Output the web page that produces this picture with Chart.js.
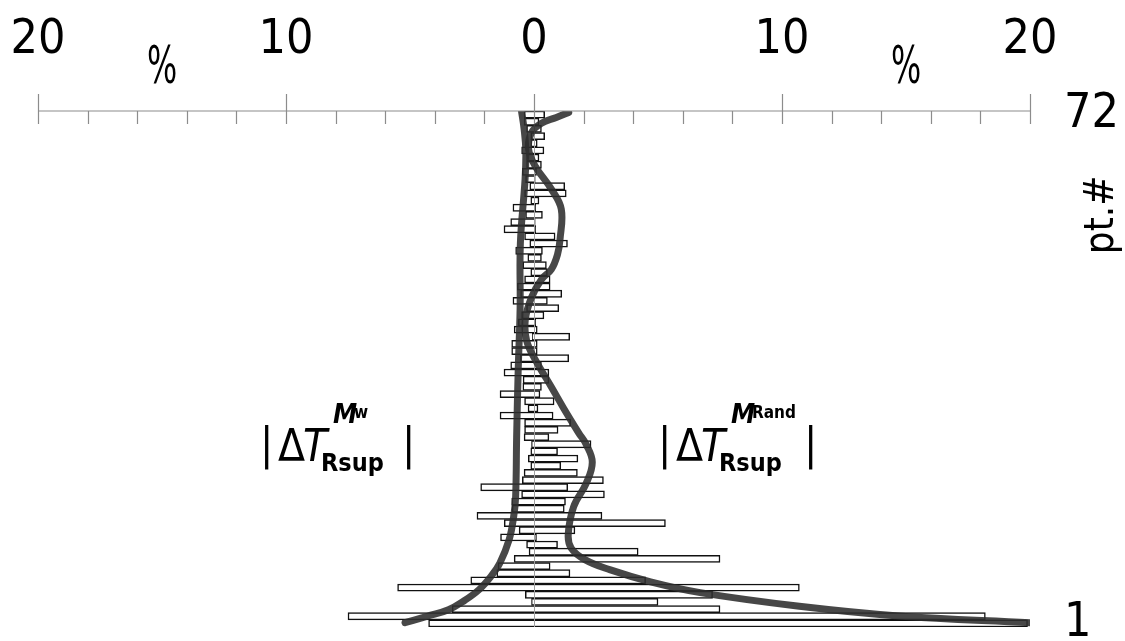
<!DOCTYPE html>
<html>
<head>
<meta charset="utf-8">
<script src="https://cdn.jsdelivr.net/npm/chart.js@4.4.1/dist/chart.umd.min.js"></script>
<style>
  html, body { margin: 0; padding: 0; background: #fff; }
  #wrap { width: 1125px; height: 641px; }
</style>
</head>
<body>
<div id="wrap"><canvas id="chart"></canvas></div>
<script>
const FONT = '"DejaVu Sans Condensed", "Liberation Sans Narrow", sans-serif';

// point numbers, bottom (1) to top (72)
const pointLabels = ['1','2','3','4','5','6','7','8','9','10','11','12','13','14','15','16','17','18',
  '19','20','21','22','23','24','25','26','27','28','29','30','31','32','33','34','35','36',
  '37','38','39','40','41','42','43','44','45','46','47','48','49','50','51','52','53','54',
  '55','56','57','58','59','60','61','62','63','64','65','66','67','68','69','70','71','72'];

// |dT Mw| in %, drawn to the left of zero
const mwValues = [4.25, 7.5, 3.3, 0.1, 0.35, 5.5, 2.55, 1.5, 1.45, 0.8, 0.2, 0.3, 1.35, 0.6, 1.2, 2.3, 0.88, 0.9,
  0.5, 2.15, 0.47, 0.4, 0.13, 0.23, 0.13, 0.1, 0.4, 0.38, 0.38, 1.37, 0.24, 0.38, 1.37, 0.45, 0.44, 1.21,
  0.94, 0.55, 0.9, 0.9, 0.07, 0.8, 0.63, 0.5, 0.3, 0.85, 0.54, 0.67, 0.38, 0.13, 0.45, 0.25, 0.74, 0.17,
  0.38, 1.21, 0.94, 0.34, 0.85, 0.13, 0.38, 0.17, 0.34, 0.47, 0.3, 0.3, 0.5, 0.13, 0.13, 0.3, 0.4, 0.4];

// |dT MRand| in %, drawn to the right of zero
const mrandValues = [19.9, 18.2, 7.5, 5.0, 7.2, 10.7, 4.5, 1.45, 0.65, 7.5, 4.2, 0.95, 0.1, 1.65, 5.3, 2.74, 1.22, 1.27,
  2.84, 1.36, 2.8, 1.75, 1.08, 1.77, 0.95, 2.3, 0.6, 0.97, 1.48, 0.77, 0.16, 0.81, 0.24, 0.3, 0.6, 0.6,
  0.3, 1.4, 0.13, 0.13, 1.44, 0.13, 0.07, 0.4, 1.0, 0.54, 1.12, 0.65, 0.65, 0.54, 0.5, 0.3, 0.34, 1.35,
  0.85, 0.07, 0.05, 0.34, 0.07, 0.2, 1.3, 1.24, 0.05, 0.1, 0.3, 0.2, 0.4, 0.13, 0.43, 0.3, 0.2, 0.43];

// smooth trend curves, [pt, %]
const mwCurve = [[1.1,-5.2],[2.0,-4.3],[2.9,-3.45],[4.2,-2.8],[5.7,-2.22],[7.5,-1.75],[9.4,-1.38],[12.7,-1.0],
  [15.9,-0.82],[18.7,-0.74],[27,-0.7],[36,-0.64],[45,-0.56],[54,-0.55],[63,-0.36],[67,-0.33],[70,-0.4],[72.4,-0.5]];
const mrandCurve = [[1.1,20.0],[2.05,14.7],[3.4,10.7],[5.3,6.7],[6.8,4.7],[8.5,3.05],[9.9,2.05],[11.5,1.5],
  [13.4,1.38],[17.3,1.6],[20.5,2.1],[23.5,2.35],[26,2.1],[27.6,1.8],[31,1.2],[34,0.7],[37.8,0.05],
  [40.5,-0.3],[43.4,-0.35],[46.5,-0.1],[49,0.3],[50.4,0.7],[52.5,0.95],[54.6,1.05],[58.8,1.1],[61.6,0.7],
  [64.8,0.05],[67.2,-0.22],[69.5,-0.1],[70.8,0.3],[71.6,0.9],[72.3,1.4]];

const xTicks = [-20, -10, 0, 10, 20];
const ptTicks = [1, 72];

function deltaLabel(ctx, x, y, supSub, closeAt) {
  ctx.save();
  ctx.fillStyle = '#000';
  ctx.textAlign = 'left';
  ctx.textBaseline = 'alphabetic';
  ctx.font = '44px ' + FONT;
  ctx.fillText('|', x, y - 2);
  ctx.fillText('|', x + closeAt, y - 2);
  ctx.fillText('\u0394', x + 18, y);
  ctx.font = 'italic 44px ' + FONT;
  ctx.fillText('T', x + 43, y);
  ctx.font = 'bold 25px ' + FONT;
  ctx.fillText('Rsup', x + 61, y + 10);
  ctx.font = 'italic bold 27px ' + FONT;
  ctx.fillText('M', x + 73, y - 38);
  ctx.font = 'bold 17px ' + FONT;
  ctx.fillText(supSub, x + 94, y - 43);
  ctx.restore();
}

const decor = {
  id: 'decor',
  afterDatasetDraw(chart, args) {
    if (args.index !== 2) return;
    // zero line over the bars, under the curves
    const {ctx, chartArea, scales} = chart;
    const x0 = Math.round(scales.x.getPixelForValue(0)) + 0.5;
    ctx.save();
    ctx.strokeStyle = '#a0a0a0';
    ctx.lineWidth = 1;
    ctx.beginPath();
    ctx.moveTo(x0, chartArea.top);
    ctx.lineTo(x0, chartArea.bottom);
    ctx.stroke();
    ctx.restore();
  },
  afterDraw(chart) {
    const {ctx, chartArea, scales} = chart;
    const xs = scales.x, ys = scales.y2;
    const top = chartArea.top;
    ctx.save();
    ctx.strokeStyle = '#8c8c8c';
    ctx.lineWidth = 1.2;
    ctx.beginPath();
    ctx.moveTo(chartArea.left, top);
    ctx.lineTo(chartArea.right, top);
    for (let v = -20; v <= 20; v += 2) {
      const px = Math.round(xs.getPixelForValue(v)) + 0.5;
      ctx.moveTo(px, v % 10 === 0 ? top - 17 : top);
      ctx.lineTo(px, top + 13);
    }
    ctx.stroke();

    ctx.fillStyle = '#000';
    ctx.font = '52px ' + FONT;
    ctx.textAlign = 'center';
    ctx.textBaseline = 'middle';
    [-15, 15].forEach(v => {
      ctx.save();
      ctx.translate(xs.getPixelForValue(v), 69);
      ctx.scale(0.68, 1);
      ctx.fillText('%', 0, 0);
      ctx.restore();
    });

    ctx.translate(1103, ys.getPixelForValue(58));
    ctx.rotate(-Math.PI / 2);
    ctx.font = '40px ' + FONT;
    ctx.fillText('pt.#', 0, 0);
    ctx.restore();

    const base = ys.getPixelForValue(23.6);
    deltaLabel(ctx, xs.getPixelForValue(-11.05), base, 'w', 142);
    deltaLabel(ctx, xs.getPixelForValue(5.0), base, 'Rand', 146);
  }
};

new Chart(document.getElementById('chart'), {
  type: 'bar',
  data: {
    labels: pointLabels,
    datasets: [
      {
        type: 'line',
        indexAxis: 'y',
        data: mrandCurve.map(p => ({x: p[1], y: p[0]})),
        xAxisID: 'x', yAxisID: 'y2',
        borderColor: 'rgba(45,45,45,0.88)', borderWidth: 7,
        borderCapStyle: 'round', pointRadius: 0, tension: 0.4, fill: false
      },
      {
        type: 'line',
        indexAxis: 'y',
        data: mwCurve.map(p => ({x: p[1], y: p[0]})),
        xAxisID: 'x', yAxisID: 'y2',
        borderColor: 'rgba(45,45,45,0.88)', borderWidth: 7,
        borderCapStyle: 'round', pointRadius: 0, tension: 0.4, fill: false
      },
      {
        data: mrandValues,
        xAxisID: 'x', yAxisID: 'y',
        backgroundColor: '#fff', borderColor: '#111', borderWidth: 1.5,
        barPercentage: 1, categoryPercentage: 1, grouped: false
      },
      {
        data: mwValues.map(v => -v),
        xAxisID: 'x', yAxisID: 'y',
        backgroundColor: '#fff', borderColor: '#111', borderWidth: 1.5,
        barPercentage: 1, categoryPercentage: 1, grouped: false
      }
    ]
  },
  options: {
    indexAxis: 'y',
    responsive: true,
    maintainAspectRatio: false,
    animation: false,
    devicePixelRatio: 1,
    layout: { padding: { left: 38, right: 0, top: 0, bottom: 14 } },
    plugins: { legend: { display: false }, tooltip: { enabled: false } },
    scales: {
      x: {
        type: 'linear', position: 'top', min: -20, max: 20,
        afterBuildTicks: a => { a.ticks = xTicks.map(v => ({value: v})); },
        afterFit: a => { a.height = 111; a.paddingLeft = 0; a.paddingRight = 0; },
        ticks: {
          font: { family: FONT, size: 48 }, color: '#000', padding: 42,
          maxRotation: 0, callback: v => Math.abs(v)
        },
        grid: { display: false, drawTicks: false },
        border: { display: false }
      },
      y: {
        type: 'category', reverse: true, offset: true, display: false,
        grid: { display: false }
      },
      y2: {
        type: 'linear', position: 'right', min: 0.5, max: 72.5, offset: false,
        afterBuildTicks: a => { a.ticks = ptTicks.map(v => ({value: v})); },
        afterFit: a => { a.width = 95; a.paddingTop = 0; a.paddingBottom = 0; },
        ticks: { font: { family: FONT, size: 48 }, color: '#000', padding: 34 },
        grid: { display: false, drawTicks: false, offset: false },
        border: { display: false }
      }
    }
  },
  plugins: [decor]
});
</script>
</body>
</html>
